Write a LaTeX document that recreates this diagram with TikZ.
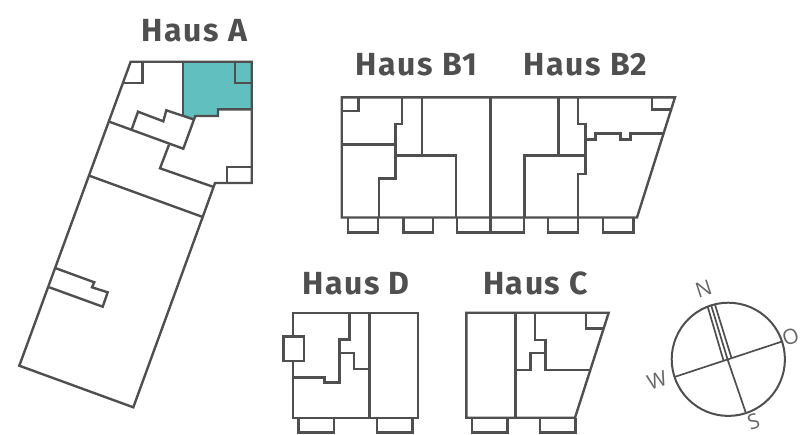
\documentclass[tikz,border=0pt]{standalone}
\usepackage{fontspec}
\setmainfont{Fira Sans}
\newfontfamily\titlefont[LetterSpace=5.0]{Fira Sans Bold}
\newfontfamily\compfont{Open Sans}
\definecolor{wall}{HTML}{4F4F4F}
\definecolor{teal}{HTML}{62BFBF}
\definecolor{lab}{HTML}{666666}
\tikzset{
  plan/.style={draw=wall,line width=2.4pt,line join=miter},
  thin wall/.style={draw=wall,line width=1.7pt},
  housetitle/.style={text=wall,font=\titlefont\fontsize{32}{32}\selectfont,anchor=base,inner sep=0pt},
  complabel/.style={text=lab,font=\compfont\fontsize{21}{21}\selectfont,inner sep=0pt,rotate=18},
}
\begin{document}
\begin{tikzpicture}[x=1pt,y=-1pt]
\useasboundingbox (0,0) rectangle (801,434);
% Titles
\node[housetitle] (ta) at (194.5,41) {Haus A};
\node[housetitle] (tb1) at (416.5,75) {Haus B1};
\node[housetitle] (tb2) at (585.5,75) {Haus B2};
\node[housetitle] (td) at (356,294) {Haus D};
\node[housetitle] (tc) at (535.5,294) {Haus C};
% Haus A
\fill[teal] (183,61.7) -- (251.7,61.7) -- (251.7,109.3) -- (218,109.3) -- (218,116) -- (195.3,116) -- (194,119.3) -- (183,116) -- cycle;
\draw[plan] (130.7,61.7) -- (251.7,61.7) -- (251.7,183) -- (215,183) -- (202.7,217) -- (133.3,407.3) -- (19.3,365.7) -- cycle;
\draw[plan] (183,61.7) -- (183,116);
\draw[plan] (234.7,61.7) -- (234.7,83) -- (251.7,83);
\draw[plan] (142.3,61.7) -- (142.3,83) -- (124,83);
\draw[plan] (251.7,109.3) -- (218,109.3) -- (218,116) -- (195.3,116) -- (183.3,148.7) -- (109.3,121.7);
\draw[plan] (131.7,129.3) -- (138,111.7) -- (163.3,121.3) -- (166.3,110.3) -- (194.3,119.6);
\draw[plan] (169,144.7) -- (160,168.3) -- (213.7,187);
\draw[plan] (226.7,183) -- (226.7,166.7) -- (251.7,166.7);
\draw[plan] (89.3,175.7) -- (202.7,217);
\draw[plan] (56,268.3) -- (94.3,282.3) -- (92,287.3) -- (107.7,292.3) -- (102.7,306.7) -- (49.3,287.3);
% Haus B
\draw[plan] (341.7,97.3) -- (675,97.3) -- (637,217.5) -- (341.7,217.5) -- cycle;
\draw[plan] (358.3,97.3) -- (358.3,111) -- (341.7,111);
\draw[plan] (402,97.3) -- (402,124) -- (395.3,124) -- (395.3,178.3) -- (379,178.3) -- (379,217.5);
\draw[plan] (341.7,144.3) -- (395.3,144.3);
\draw[plan] (421.7,97.3) -- (421.7,155.3);
\draw[plan] (395.3,155.3) -- (456,155.3) -- (456,217.5);
\draw[plan] (490.3,97.3) -- (490.3,232.3);
\draw[plan] (348,217.5) -- (348,232.3) -- (378,232.3) -- (378,217.5);
\draw[plan] (403.3,217.5) -- (403.3,232.3) -- (432.7,232.3) -- (432.7,217.5);
\draw[plan] (457,217.5) -- (457,232.3) -- (523.7,232.3) -- (523.7,217.5);
\draw[plan] (558.3,97.3) -- (558.3,155.3);
\draw[plan] (524.3,217.5) -- (524.3,155.3) -- (585.3,155.3);
\draw[plan] (578,97.3) -- (578,123.7) -- (585.3,123.7) -- (585.3,173.7) -- (578,173.7) -- (578,217.5);
\draw[plan] (585.3,139.3) -- (595.3,139.3) -- (595.3,133.3) -- (620.3,133.3) -- (620.3,139.3) -- (630.3,139.3) -- (630.3,133.3) -- (662.7,133.3);
\draw[plan] (652,97.3) -- (652,109.3) -- (671,109.3);
\draw[plan] (547.7,217.5) -- (547.7,232.3) -- (577.7,232.3) -- (577.7,217.5);
\draw[plan] (602.7,217.5) -- (602.7,232.3) -- (633.3,232.3) -- (633.3,217.5);
% Haus D
\draw[plan] (292.7,312.7) rectangle (418,417.7);
\draw[plan,fill=white] (283.3,336.3) rectangle (304,360.7);
\draw[plan] (369.3,312.7) -- (369.3,417.7);
\draw[plan] (349.3,312.7) -- (349.3,339.3) -- (339.3,339.3) -- (339.3,382.3) -- (324.3,382.3) -- (324.3,377.3) -- (292.7,377.3);
\draw[plan] (339.3,353) -- (354,353) -- (354,369) -- (369.3,369);
\draw[plan] (298.3,417.7) -- (298.3,432.3) -- (334,432.3) -- (334,417.7);
\draw[plan] (377,417.7) -- (377,432.3) -- (412.3,432.3) -- (412.3,417.7);
% Haus C
\draw[plan] (466.3,312.7) -- (608.7,312.7) -- (575,417.7) -- (466.3,417.7) -- cycle;
\draw[plan] (515.3,312.7) -- (515.3,417.7);
\draw[plan] (534.7,312.7) -- (534.7,340) -- (545.3,340) -- (545.3,369.7) -- (589.7,369.7);
\draw[plan] (515.3,369.7) -- (530.3,369.7) -- (530.3,353) -- (545.3,353);
\draw[plan] (585.7,312.7) -- (585.7,328.3) -- (602.7,328.3);
\draw[plan] (471.7,417.7) -- (471.7,432.3) -- (507.3,432.3) -- (507.3,417.7);
\draw[plan] (540,417.7) -- (540,432.3) -- (575.3,432.3) -- (575.3,417.7);
% Compass
\coordinate (cc) at (728.3,359.3);
\coordinate (cw) at (675.3,376.7);
\coordinate (co) at (782.7,341.3);
\coordinate (cs) at (746,413.3);
\draw[thin wall,line width=2pt] (cc) circle[radius=56.6];
\draw[thin wall] (cw) -- (co);
\draw[thin wall] (707.7,306.7) -- (723.5,360.5);
\draw[thin wall] (711.3,305.7) -- (727.5,359.2);
\draw[thin wall] (715,304.7) -- (731.5,358);
\draw[thin wall] (727.5,359.2) -- (cs);
\node[complabel] (ln) at (703.5,288.5) {N};
\node[complabel] (lo) at (790.5,337) {O};
\node[complabel] (lw) at (657,380) {W};
\node[complabel] (ls) at (753.5,422) {S};
\end{tikzpicture}
\end{document}
